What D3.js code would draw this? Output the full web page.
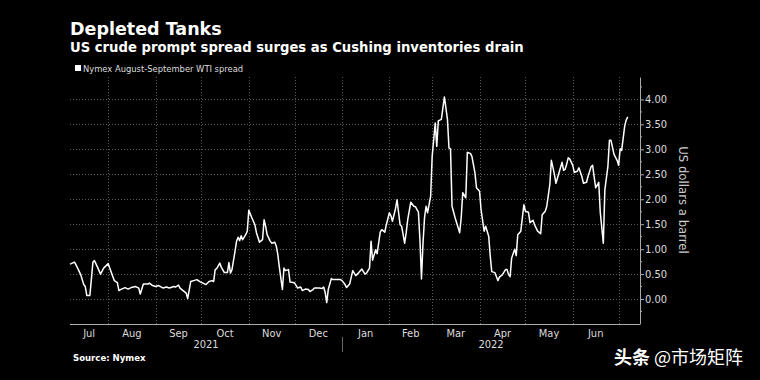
<!DOCTYPE html>
<html>
<head>
<meta charset="utf-8">
<script src="https://cdn.jsdelivr.net/npm/d3@7"></script>
<style>
  html, body { margin: 0; padding: 0; background: #000; }
</style>
</head>
<body>
<script>
// chart data
const dates = [
  "2021-07-07","2021-07-10","2021-07-12","2021-07-14","2021-07-16","2021-07-17","2021-07-18","2021-07-20","2021-07-22","2021-07-23",
  "2021-07-25","2021-07-27","2021-07-29","2021-08-01","2021-08-02","2021-08-04","2021-08-05","2021-08-07","2021-08-08","2021-08-09",
  "2021-08-12","2021-08-14","2021-08-16","2021-08-19","2021-08-21","2021-08-22","2021-08-24","2021-08-27","2021-08-28","2021-08-30",
  "2021-09-01","2021-09-03","2021-09-06","2021-09-08","2021-09-10","2021-09-13","2021-09-14","2021-09-16","2021-09-17","2021-09-19",
  "2021-09-21","2021-09-22","2021-09-24","2021-09-26","2021-09-28","2021-09-30","2021-10-02","2021-10-04","2021-10-06","2021-10-08",
  "2021-10-09","2021-10-10","2021-10-11","2021-10-13","2021-10-14","2021-10-16","2021-10-18","2021-10-19","2021-10-20","2021-10-21",
  "2021-10-23","2021-10-24","2021-10-25","2021-10-26","2021-10-27","2021-10-28","2021-10-30","2021-10-31","2021-11-01","2021-11-03",
  "2021-11-05","2021-11-06","2021-11-08","2021-11-10","2021-11-11","2021-11-12","2021-11-13","2021-11-15","2021-11-16","2021-11-18",
  "2021-11-19","2021-11-20","2021-11-21","2021-11-23","2021-11-24","2021-11-25","2021-11-27","2021-11-28","2021-11-30","2021-12-01",
  "2021-12-03","2021-12-05","2021-12-06","2021-12-08","2021-12-10","2021-12-11","2021-12-13","2021-12-14","2021-12-17","2021-12-19",
  "2021-12-20","2021-12-21","2021-12-22","2021-12-23","2021-12-25","2021-12-26","2021-12-29","2021-12-31","2022-01-01","2022-01-03",
  "2022-01-04","2022-01-06","2022-01-08","2022-01-10","2022-01-12","2022-01-14","2022-01-16","2022-01-17","2022-01-19","2022-01-20",
  "2022-01-21","2022-01-23","2022-01-24","2022-01-26","2022-01-27","2022-01-29","2022-01-30","2022-02-01","2022-02-02","2022-02-03",
  "2022-02-05","2022-02-06","2022-02-07","2022-02-08","2022-02-09","2022-02-11","2022-02-12","2022-02-13","2022-02-15","2022-02-17",
  "2022-02-18","2022-02-20","2022-02-21","2022-02-22","2022-02-23","2022-02-24","2022-02-25","2022-02-26","2022-02-28","2022-03-01",
  "2022-03-03","2022-03-04","2022-03-05","2022-03-07","2022-03-09","2022-03-11","2022-03-12","2022-03-13","2022-03-14","2022-03-16",
  "2022-03-19","2022-03-20","2022-03-21","2022-03-23","2022-03-24","2022-03-26","2022-03-27","2022-03-29","2022-03-30","2022-04-01",
  "2022-04-02","2022-04-04","2022-04-05","2022-04-07","2022-04-08","2022-04-09","2022-04-11","2022-04-13","2022-04-14","2022-04-16",
  "2022-04-18","2022-04-19","2022-04-20","2022-04-21","2022-04-22","2022-04-24","2022-04-25","2022-04-26","2022-04-28","2022-04-30",
  "2022-05-01","2022-05-03","2022-05-04","2022-05-06","2022-05-07","2022-05-09","2022-05-11","2022-05-12","2022-05-14","2022-05-15",
  "2022-05-17","2022-05-18","2022-05-20","2022-05-21","2022-05-23","2022-05-25","2022-05-26","2022-05-27","2022-05-28","2022-05-29",
  "2022-05-30","2022-06-01","2022-06-02","2022-06-04","2022-06-05","2022-06-07","2022-06-08","2022-06-10","2022-06-11","2022-06-13",
  "2022-06-14","2022-06-15","2022-06-16","2022-06-18","2022-06-19","2022-06-21","2022-06-22","2022-06-24","2022-06-25","2022-06-26",
  "2022-06-28","2022-06-30","2022-07-01","2022-07-02","2022-07-03","2022-07-05","2022-07-06","2022-07-07"
];
const spread = [
  0.70,0.74,0.62,0.49,0.29,0.25,0.07,0.07,0.74,0.77,
  0.64,0.50,0.62,0.71,0.62,0.45,0.37,0.33,0.17,0.19,
  0.23,0.20,0.23,0.25,0.22,0.10,0.30,0.30,0.32,0.27,
  0.25,0.27,0.22,0.24,0.22,0.25,0.24,0.28,0.22,0.17,
  0.12,0.01,0.35,0.37,0.39,0.35,0.32,0.29,0.35,0.37,
  0.35,0.59,0.61,0.72,0.64,0.53,0.53,0.73,0.52,0.59,
  0.96,1.16,1.24,1.17,1.27,1.19,1.29,1.36,1.78,1.63,
  1.49,1.33,1.14,1.19,1.59,1.46,1.29,1.16,1.12,1.14,
  1.06,0.89,0.64,0.19,0.62,0.57,0.59,0.34,0.33,0.32,
  0.22,0.24,0.17,0.20,0.19,0.15,0.19,0.22,0.22,0.21,
  0.24,0.13,-0.07,0.19,0.41,0.39,0.39,0.39,0.37,0.29,
  0.23,0.30,0.57,0.47,0.53,0.60,0.50,0.52,0.62,1.16,
  0.78,0.99,0.91,1.34,1.39,1.34,1.49,1.73,1.67,1.56,
  1.81,1.99,1.74,1.49,1.46,1.12,1.33,1.59,1.94,1.86,
  1.85,1.74,1.19,0.40,1.12,1.63,1.86,1.73,2.06,2.86,
  3.53,3.06,3.57,3.60,4.05,3.60,3.03,3.01,1.86,1.63,
  1.33,1.63,2.13,2.03,2.94,2.92,2.86,2.53,2.23,2.16,
  1.79,1.36,1.46,1.26,0.86,0.55,0.53,0.37,0.44,0.49,
  0.59,0.59,0.49,0.45,0.82,1.00,0.87,1.29,1.36,1.89,
  1.76,1.74,1.53,1.58,1.49,1.36,1.31,1.69,1.76,1.86,
  2.30,2.78,2.50,2.32,2.53,2.74,2.58,2.60,2.70,2.83,
  2.81,2.68,2.54,2.56,2.63,2.45,2.32,2.34,2.46,2.65,
  2.68,2.45,2.23,2.34,1.74,1.12,2.19,2.66,3.18,3.18,
  2.90,2.78,2.68,3.01,2.98,3.47,3.59,3.65
];
const monthLabels = ["Jul","Aug","Sep","Oct","Nov","Dec","Jan","Feb","Mar","Apr","May","Jun"];
const yearLabels = ["2021","2022"];
const yTicks = [0, 0.5, 1, 1.5, 2, 2.5, 3, 3.5, 4];

const parse = d3.timeParse("%Y-%m-%d");
const data = dates.map((d, i) => ({ date: parse(d), value: spread[i] }));

// canvas
const canvWidth = 760, canvHeight = 380;
const svg = d3.select("body").append("svg")
    .attr("width", canvWidth)
    .attr("height", canvHeight)
    .style("background", "#000");

const plot = { left: 70, right: 640, top: 77, bottom: 324 };
const condensed = "'DejaVu Sans Condensed', 'DejaVu Sans', sans-serif";

// scales
const xScale = d3.scaleTime()
    .domain([parse("2021-07-07"), parse("2022-07-15")])
    .range([plot.left, plot.right]);
const yScale = d3.scaleLinear()
    .domain([-0.5, 4.45])
    .range([plot.bottom, plot.top]);

// titles
svg.append("text")
    .attr("x", 70).attr("y", 35)
    .attr("font-family", "'DejaVu Sans', sans-serif")
    .attr("font-weight", "bold")
    .attr("font-size", "17.5px")
    .attr("fill", "#fff")
    .text("Depleted Tanks");
svg.append("text")
    .attr("x", 70).attr("y", 52)
    .attr("font-family", "'DejaVu Sans', sans-serif")
    .attr("font-weight", "bold")
    .attr("font-size", "13.2px")
    .attr("fill", "#fff")
    .text("US crude prompt spread surges as Cushing inventories drain");

// legend
svg.append("rect")
    .attr("x", 75).attr("y", 65).attr("width", 6).attr("height", 6)
    .attr("fill", "#fff");
svg.append("text")
    .attr("x", 83).attr("y", 72)
    .attr("font-family", condensed)
    .attr("font-size", "9.3px")
    .attr("fill", "#ddd")
    .text("Nymex August-September WTI spread");

// grid
const monthStarts = d3.timeMonth.range(parse("2021-08-01"), parse("2022-07-15"));
const grid = svg.append("g").attr("stroke", "#5a5a5a").attr("stroke-dasharray", "1,2").attr("stroke-width", 1);
grid.selectAll("line.h").data(yTicks).enter().append("line")
    .attr("x1", plot.left).attr("x2", plot.right)
    .attr("y1", d => Math.round(yScale(d)) + 0.5)
    .attr("y2", d => Math.round(yScale(d)) + 0.5);
grid.selectAll("line.v").data(monthStarts).enter().append("line")
    .attr("x1", d => Math.round(xScale(d)) + 0.5)
    .attr("x2", d => Math.round(xScale(d)) + 0.5)
    .attr("y1", plot.top).attr("y2", plot.bottom);

// y axis (right)
const yAxis = d3.axisRight(yScale)
    .tickValues(yTicks)
    .tickFormat(d3.format(".2f"))
    .tickSize(4)
    .tickSizeOuter(0);
const yG = svg.append("g")
    .attr("transform", "translate(" + plot.right + ",0)")
    .call(yAxis);
yG.select(".domain").attr("stroke", "#aaa");
yG.selectAll(".tick line").attr("stroke", "#aaa");
yG.selectAll(".tick text")
    .attr("x", 5)
    .attr("fill", "#ddd")
    .attr("font-family", condensed)
    .attr("font-size", "11px");
// minor ticks
const minor = d3.range(-0.25, 4.4, 0.5);
yG.selectAll("line.minor").data(minor).enter().append("line")
    .attr("x1", 0).attr("x2", 2)
    .attr("y1", d => yScale(d)).attr("y2", d => yScale(d))
    .attr("stroke", "#aaa");

svg.append("text")
    .attr("transform", "translate(679,200) rotate(90)")
    .attr("text-anchor", "middle")
    .attr("font-family", condensed)
    .attr("font-size", "13px")
    .attr("fill", "#ccc")
    .text("US dollars a barrel");

// x axis
svg.append("line")
    .attr("x1", plot.left).attr("x2", plot.right)
    .attr("y1", plot.bottom + 0.5).attr("y2", plot.bottom + 0.5)
    .attr("stroke", "#aaa");

const monthBounds = [xScale.domain()[0]].concat(monthStarts);
svg.selectAll("text.month").data(monthLabels).enter().append("text")
    .attr("x", (d, i) => (xScale(monthBounds[i]) + xScale(monthBounds[i + 1])) / 2)
    .attr("y", 337)
    .attr("text-anchor", "middle")
    .attr("font-family", condensed)
    .attr("font-size", "11px")
    .attr("fill", "#ddd")
    .text(d => d);

const yearBounds = [xScale.domain()[0], parse("2022-01-01"), xScale.domain()[1]];
svg.selectAll("text.year").data(yearLabels).enter().append("text")
    .attr("x", (d, i) => (xScale(yearBounds[i]) + xScale(yearBounds[i + 1])) / 2)
    .attr("y", 348)
    .attr("text-anchor", "middle")
    .attr("font-family", condensed)
    .attr("font-size", "11px")
    .attr("fill", "#ddd")
    .text(d => d);
svg.append("line")
    .attr("x1", Math.round(xScale(yearBounds[1])) + 0.5)
    .attr("x2", Math.round(xScale(yearBounds[1])) + 0.5)
    .attr("y1", 337).attr("y2", 352)
    .attr("stroke", "#666");

// the line
const line = d3.line()
    .x(d => xScale(d.date))
    .y(d => yScale(d.value));
svg.append("path")
    .datum(data)
    .attr("fill", "none")
    .attr("stroke", "#fff")
    .attr("stroke-width", 1.5)
    .attr("stroke-linejoin", "round")
    .attr("d", line);

// footer
svg.append("text")
    .attr("x", 73).attr("y", 361)
    .attr("font-family", condensed)
    .attr("font-weight", "bold")
    .attr("font-size", "9.5px")
    .attr("fill", "#fff")
    .text("Source: Nymex");

const mark = svg.append("text")
    .attr("x", 614).attr("y", 364)
    .attr("font-family", "'Noto Sans CJK SC', sans-serif")
    .attr("font-size", "18px")
    .attr("fill", "#fff");
mark.append("tspan").attr("font-weight", "bold").text("头条");
mark.append("tspan").text(" @市场矩阵");
</script>
</body>
</html>
